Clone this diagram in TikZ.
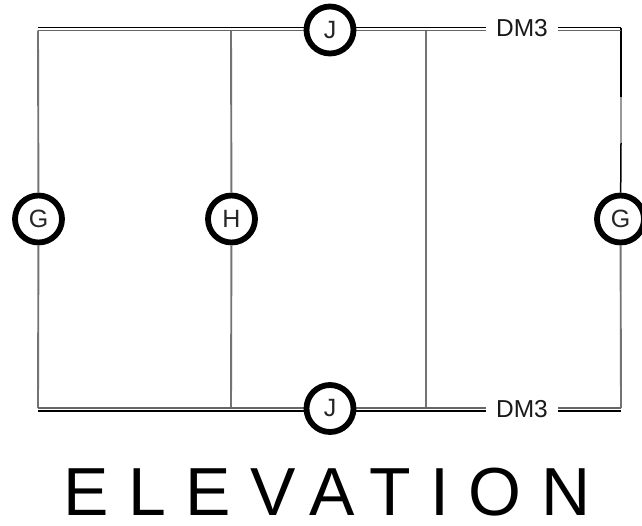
\documentclass[tikz,border=0pt]{standalone}
\usepackage{fontspec}
\setmainfont{Liberation Sans}
\newfontfamily\titlefont[LetterSpace=28.5]{Liberation Sans}
\tikzset{
  grid mark/.style={circle,draw=black,line width=5.8pt,fill=white,minimum size=47pt,inner sep=0pt,font=\fontsize{25}{25}\selectfont,text=black!85},
  dm label/.style={fill=white,inner sep=0pt,minimum width=72pt,minimum height=24pt,font=\fontsize{24.5}{24.5}\selectfont,text=black!90},
  heavy line/.style={black,line width=1.5pt},
  light line/.style={black!60,line width=1.5pt},
  column line/.style={black!55,line width=1.9pt}
}
\begin{document}
\begin{tikzpicture}[x=1pt,y=-1pt]
\useasboundingbox (0,0) rectangle (642,525);
% corner and junction points
\coordinate (TL) at (38,27.5);
\coordinate (TLg) at (38,30.5);
\coordinate (TR) at (621,27.5);
\coordinate (TRg) at (621,30.5);
\coordinate (BL) at (38,411);
\coordinate (BLg) at (38,408);
\coordinate (BR) at (621,411);
\coordinate (BRg) at (621,408);
\coordinate (Ht) at (231,30.5);
\coordinate (Hb) at (231,408);
\coordinate (Kt) at (426,30.5);
\coordinate (Kb) at (426,408);
\coordinate (R1) at (621,97);
\coordinate (R2) at (621,143);
% nodes
\node[grid mark] (G1) at (38.5,219) {G};
\node[grid mark] (H) at (231.5,219) {H};
\node[grid mark] (G2) at (620.5,219) {G};
% columns
\draw[column line] (TLg) -- (G1);
\draw[column line] (G1) -- (BLg);
\draw[column line] (Ht) -- (H);
\draw[column line] (H) -- (Hb);
\draw[column line] (Kt) -- (Kb);
\draw[heavy line] (TR) -- (R1);
\draw[black!40,line width=1.5pt] (R1) -- (R2);
\draw[heavy line] (R2) -- (G2);
\draw[column line] (G2) -- (BRg);
% beams
\draw[heavy line] (TL) -- (TR);
\draw[light line] (TLg) -- (TRg);
\draw[light line] (BLg) -- (BRg);
\draw[heavy line] (BL) -- (BR);
% marks and labels on top
\node[grid mark] (J1) at (330,30) {J};
\node[grid mark] (J2) at (330,408.5) {J};
\node[dm label] (D1) at (522,28.5) {DM3};
\node[dm label] (D2) at (522,409.5) {DM3};
\node[font=\fontsize{68}{68}\titlefont,inner sep=0pt,text=black] (title) at (327,492.5) {ELEVATION};
\end{tikzpicture}
\end{document}
